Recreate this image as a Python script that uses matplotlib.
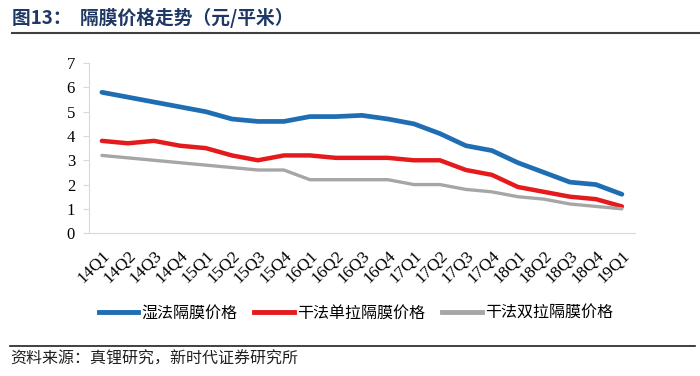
import matplotlib
matplotlib.use("Agg")
import matplotlib.pyplot as plt
import matplotlib.transforms as mtrans
from matplotlib.lines import Line2D

plt.rcParams['font.family'] = ['Noto Sans CJK SC', 'DejaVu Sans']

quarters = ["14Q1", "14Q2", "14Q3", "14Q4", "15Q1", "15Q2", "15Q3", "15Q4",
            "16Q1", "16Q2", "16Q3", "16Q4", "17Q1", "17Q2", "17Q3", "17Q4",
            "18Q1", "18Q2", "18Q3", "18Q4", "19Q1"]
# 湿法隔膜
wet = [5.8, 5.6, 5.4, 5.2, 5.0, 4.7, 4.6, 4.6, 4.8, 4.8, 4.85, 4.7,
       4.5, 4.1, 3.6, 3.4, 2.9, 2.5, 2.1, 2.0, 1.6]
# 干法单拉
dry_single = [3.8, 3.7, 3.8, 3.6, 3.5, 3.2, 3.0, 3.2, 3.2, 3.1, 3.1, 3.1,
              3.0, 3.0, 2.6, 2.4, 1.9, 1.7, 1.5, 1.4, 1.1]
# 干法双拉
dry_double = [3.2, 3.1, 3.0, 2.9, 2.8, 2.7, 2.6, 2.6, 2.2, 2.2, 2.2, 2.2,
              2.0, 2.0, 1.8, 1.7, 1.5, 1.4, 1.2, 1.1, 1.0]
names = ["湿法隔膜价格", "干法单拉隔膜价格", "干法双拉隔膜价格"]
colors = ["#1F6EB4", "#E41A1C", "#A6A6A6"]

fig = plt.figure(figsize=(7, 3.76), dpi=100)
ax = fig.add_axes([0.127, 0.380, 0.780, 0.452])

x = range(len(quarters))
ax.plot(x, wet, color=colors[0], lw=3.4, solid_capstyle='round')
ax.plot(x, dry_single, color=colors[1], lw=3.2, solid_capstyle='round')
ax.plot(x, dry_double, color=colors[2], lw=2.4, solid_capstyle='round')

ax.set_xlim(-0.5, len(quarters) - 0.5)
ax.set_ylim(0, 7)
ax.set_yticks(range(8))
ax.set_xticks(list(x))
ax.set_xticklabels(quarters, rotation=45, ha='right', rotation_mode='anchor',
                   family='Liberation Serif', fontsize=12.5)
shift = mtrans.ScaledTranslation(-5 / 100, 0, fig.dpi_scale_trans)
for lab in ax.get_xticklabels():
    lab.set_transform(lab.get_transform() + shift)
for lab in ax.get_yticklabels():
    lab.set_family('Liberation Serif')
    lab.set_fontsize(12)
for s in ['top', 'right']:
    ax.spines[s].set_visible(False)
for s in ['left', 'bottom']:
    ax.spines[s].set_color('#D9D9D9')
ax.tick_params(axis='y', color='#D9D9D9', length=4, pad=6)
ax.tick_params(axis='x', length=0, pad=10)

handles = [Line2D([0], [0], color=c, lw=3.5) for c in colors]
fig.legend(handles, names, loc='center', bbox_to_anchor=(0.508, 0.167), ncol=3,
           frameon=False, fontsize=11.5, handlelength=2.5, handletextpad=0.15,
           columnspacing=1.1)

fig.text(0.017, 0.953, "图13：  隔膜价格走势（元/平米）", fontsize=13.5,
         fontweight='bold', color='#1F3864', va='center')
fig.add_artist(Line2D([0.017, 1.0], [0.912, 0.912], color='#404040', lw=1.5))
fig.add_artist(Line2D([0.014, 0.993], [0.080, 0.080], color='#202020', lw=1.2))
fig.text(0.014, 0.045, "资料来源：真锂研究，新时代证券研究所", fontsize=11.5,
         color='#202020', va='center')

fig.savefig("out.png", dpi=100)
